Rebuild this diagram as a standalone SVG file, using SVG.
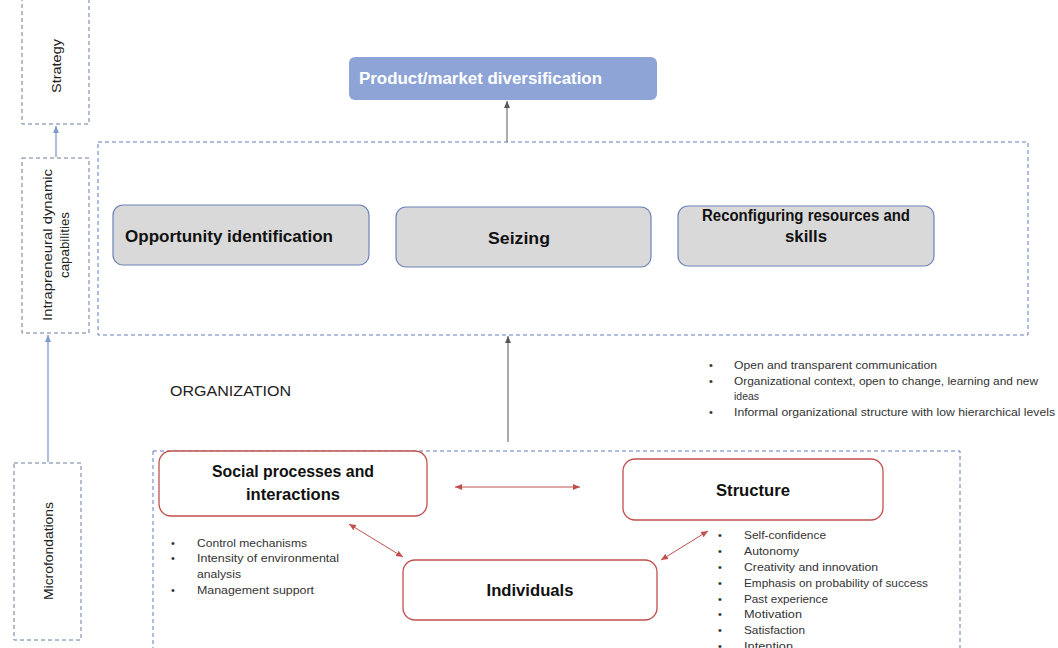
<svg xmlns="http://www.w3.org/2000/svg" width="1058" height="648" viewBox="0 0 1058 648">
  <style>
    .frame { fill: none; stroke: #5d7cb8; stroke-width: 1; stroke-dasharray: 4 3; }
    .side { fill: none; stroke: #6b7d9e; stroke-width: 1; stroke-dasharray: 4 3; }
    .cap { fill: #d9d9d9; stroke: #6d82b8; stroke-width: 1.2; }
    .micro { fill: #ffffff; stroke: #c0504d; stroke-width: 1.3; }
    .title { font-family: "Liberation Sans", Arial, sans-serif; font-weight: bold; fill: #111; }
    .label { font-family: "Liberation Sans", Arial, sans-serif; fill: #222; }
    .bullet { font-family: "Liberation Sans", Arial, sans-serif; font-size: 11px; fill: #333; }
    .blue-link { stroke: #7f9bcb; stroke-width: 1.3; fill: none; }
    .gray-link { stroke: #55585f; stroke-width: 1; fill: none; }
    .red-link { stroke: #c0504d; stroke-width: 1; fill: none; }
  </style>
  <defs>
    <marker id="ah-blue" markerWidth="8" markerHeight="8" refX="7" refY="4" orient="auto" markerUnits="userSpaceOnUse">
      <path d="M0,1 L7,4 L0,7 Z" fill="#7f9bcb"/>
    </marker>
    <marker id="ah-gray" markerWidth="8" markerHeight="8" refX="7" refY="4" orient="auto" markerUnits="userSpaceOnUse">
      <path d="M0,1 L7,4 L0,7 Z" fill="#55585f"/>
    </marker>
    <marker id="ah-red" markerWidth="8" markerHeight="8" refX="7" refY="4" orient="auto-start-reverse" markerUnits="userSpaceOnUse">
      <path d="M0,1 L7,4 L0,7 Z" fill="#c0504d"/>
    </marker>
  </defs>

  <rect width="1058" height="648" fill="#ffffff"/>

  <!-- level column -->
  <g id="level-strategy">
    <rect class="side" x="22" y="-4" width="67" height="128"/>
    <text class="label" font-size="13" transform="translate(61,66) rotate(-90)" text-anchor="middle" textLength="54" lengthAdjust="spacingAndGlyphs">Strategy</text>
  </g>
  <g id="level-capabilities">
    <rect class="side" x="22" y="158" width="67" height="175"/>
    <text class="label" font-size="13.5" transform="translate(52,245) rotate(-90)" text-anchor="middle" textLength="152" lengthAdjust="spacingAndGlyphs">Intrapreneural dynamic</text>
    <text class="label" font-size="13.5" transform="translate(69,245) rotate(-90)" text-anchor="middle" textLength="66" lengthAdjust="spacingAndGlyphs">capabilities</text>
  </g>
  <g id="level-microfoundations">
    <rect class="side" x="14" y="463" width="67" height="177"/>
    <text class="label" font-size="13" transform="translate(53,551) rotate(-90)" text-anchor="middle" textLength="98" lengthAdjust="spacingAndGlyphs">Microfondations</text>
  </g>

  <!-- outcome -->
  <g id="node-diversification">
    <rect x="349" y="57" width="308" height="43" rx="6" fill="#8ea4d6"/>
    <text class="title" x="359" y="84" font-size="16" style="fill:#ffffff" textLength="243" lengthAdjust="spacingAndGlyphs">Product/market diversification</text>
  </g>

  <!-- capabilities frame -->
  <g id="frame-capabilities">
    <rect class="frame" x="98" y="142" width="930" height="193"/>
  </g>
  <g id="node-opportunity">
    <rect class="cap" x="113" y="205" width="256" height="60" rx="10"/>
    <text class="title" x="125" y="242" font-size="16" textLength="208" lengthAdjust="spacingAndGlyphs">Opportunity identification</text>
  </g>
  <g id="node-seizing">
    <rect class="cap" x="396" y="207" width="255" height="60" rx="10"/>
    <text class="title" x="519" y="244" font-size="16" text-anchor="middle" textLength="62" lengthAdjust="spacingAndGlyphs">Seizing</text>
  </g>
  <g id="node-reconfiguring">
    <rect class="cap" x="678" y="206" width="256" height="60" rx="10"/>
    <text class="title" x="806" y="221" font-size="16" text-anchor="middle" textLength="208" lengthAdjust="spacingAndGlyphs">Reconfiguring resources and</text>
    <text class="title" x="806" y="242" font-size="16" text-anchor="middle" textLength="42" lengthAdjust="spacingAndGlyphs">skills</text>
  </g>

  <!-- organization context -->
  <g id="label-organization">
    <text class="label" x="170" y="396" font-size="14" textLength="121" lengthAdjust="spacingAndGlyphs">ORGANIZATION</text>
  </g>
  <g id="notes-organization">
    <text class="bullet" x="709" y="369">•</text>
    <text class="bullet" x="734" y="369" textLength="203" lengthAdjust="spacingAndGlyphs">Open and transparent communication</text>
    <text class="bullet" x="709" y="385">•</text>
    <text class="bullet" x="734" y="385" textLength="304" lengthAdjust="spacingAndGlyphs">Organizational context, open to change, learning and new</text>
    <text class="bullet" x="734" y="400" textLength="25" lengthAdjust="spacingAndGlyphs">ideas</text>
    <text class="bullet" x="709" y="416">•</text>
    <text class="bullet" x="734" y="416" textLength="321" lengthAdjust="spacingAndGlyphs">Informal organizational structure with low hierarchical levels</text>
  </g>

  <!-- microfoundations frame -->
  <g id="frame-microfoundations">
    <rect class="frame" x="153" y="451" width="807" height="210"/>
  </g>
  <g id="node-social">
    <rect class="micro" x="159" y="451" width="268" height="65" rx="12"/>
    <text class="title" x="293" y="477" font-size="17" text-anchor="middle" textLength="162" lengthAdjust="spacingAndGlyphs">Social processes and</text>
    <text class="title" x="293" y="500" font-size="17" text-anchor="middle" textLength="94" lengthAdjust="spacingAndGlyphs">interactions</text>
  </g>
  <g id="node-structure">
    <rect class="micro" x="623" y="459" width="260" height="61" rx="12"/>
    <text class="title" x="753" y="496" font-size="17" text-anchor="middle" textLength="74" lengthAdjust="spacingAndGlyphs">Structure</text>
  </g>
  <g id="node-individuals">
    <rect class="micro" x="403" y="560" width="254" height="60" rx="12"/>
    <text class="title" x="530" y="596" font-size="17" text-anchor="middle" textLength="87" lengthAdjust="spacingAndGlyphs">Individuals</text>
  </g>
  <g id="notes-social">
    <text class="bullet" x="171" y="547">•</text>
    <text class="bullet" x="197" y="547" textLength="110" lengthAdjust="spacingAndGlyphs">Control mechanisms</text>
    <text class="bullet" x="171" y="562">•</text>
    <text class="bullet" x="197" y="562" textLength="142" lengthAdjust="spacingAndGlyphs">Intensity of environmental</text>
    <text class="bullet" x="197" y="578" textLength="44" lengthAdjust="spacingAndGlyphs">analysis</text>
    <text class="bullet" x="171" y="594">•</text>
    <text class="bullet" x="197" y="594" textLength="117" lengthAdjust="spacingAndGlyphs">Management support</text>
  </g>
  <g id="notes-individuals">
    <text class="bullet" x="718" y="539">•</text>
    <text class="bullet" x="744" y="539" textLength="82" lengthAdjust="spacingAndGlyphs">Self-confidence</text>
    <text class="bullet" x="718" y="555">•</text>
    <text class="bullet" x="744" y="555" textLength="55" lengthAdjust="spacingAndGlyphs">Autonomy</text>
    <text class="bullet" x="718" y="571">•</text>
    <text class="bullet" x="744" y="571" textLength="134" lengthAdjust="spacingAndGlyphs">Creativity and innovation</text>
    <text class="bullet" x="718" y="587">•</text>
    <text class="bullet" x="744" y="587" textLength="184" lengthAdjust="spacingAndGlyphs">Emphasis on probability of success</text>
    <text class="bullet" x="718" y="603">•</text>
    <text class="bullet" x="744" y="603" textLength="84" lengthAdjust="spacingAndGlyphs">Past experience</text>
    <text class="bullet" x="718" y="618">•</text>
    <text class="bullet" x="744" y="618" textLength="58" lengthAdjust="spacingAndGlyphs">Motivation</text>
    <text class="bullet" x="718" y="634">•</text>
    <text class="bullet" x="744" y="634" textLength="61" lengthAdjust="spacingAndGlyphs">Satisfaction</text>
    <text class="bullet" x="718" y="650">•</text>
    <text class="bullet" x="744" y="650" textLength="49" lengthAdjust="spacingAndGlyphs">Intention</text>
  </g>

  <!-- connectors -->
  <g id="connectors">
    <line class="blue-link" x1="48" y1="462" x2="48" y2="335" marker-end="url(#ah-blue)"/>
    <line class="blue-link" x1="56" y1="157" x2="56" y2="126" marker-end="url(#ah-blue)"/>
    <line class="gray-link" x1="507" y1="142" x2="507" y2="101" marker-end="url(#ah-gray)"/>
    <line class="gray-link" x1="508" y1="442" x2="508" y2="336" marker-end="url(#ah-gray)"/>
    <line class="red-link" x1="455" y1="487" x2="580" y2="487" marker-start="url(#ah-red)" marker-end="url(#ah-red)"/>
    <line class="red-link" x1="349" y1="524" x2="403" y2="557" marker-start="url(#ah-red)" marker-end="url(#ah-red)"/>
    <line class="red-link" x1="708" y1="531" x2="661" y2="560" marker-start="url(#ah-red)" marker-end="url(#ah-red)"/>
  </g>
</svg>
